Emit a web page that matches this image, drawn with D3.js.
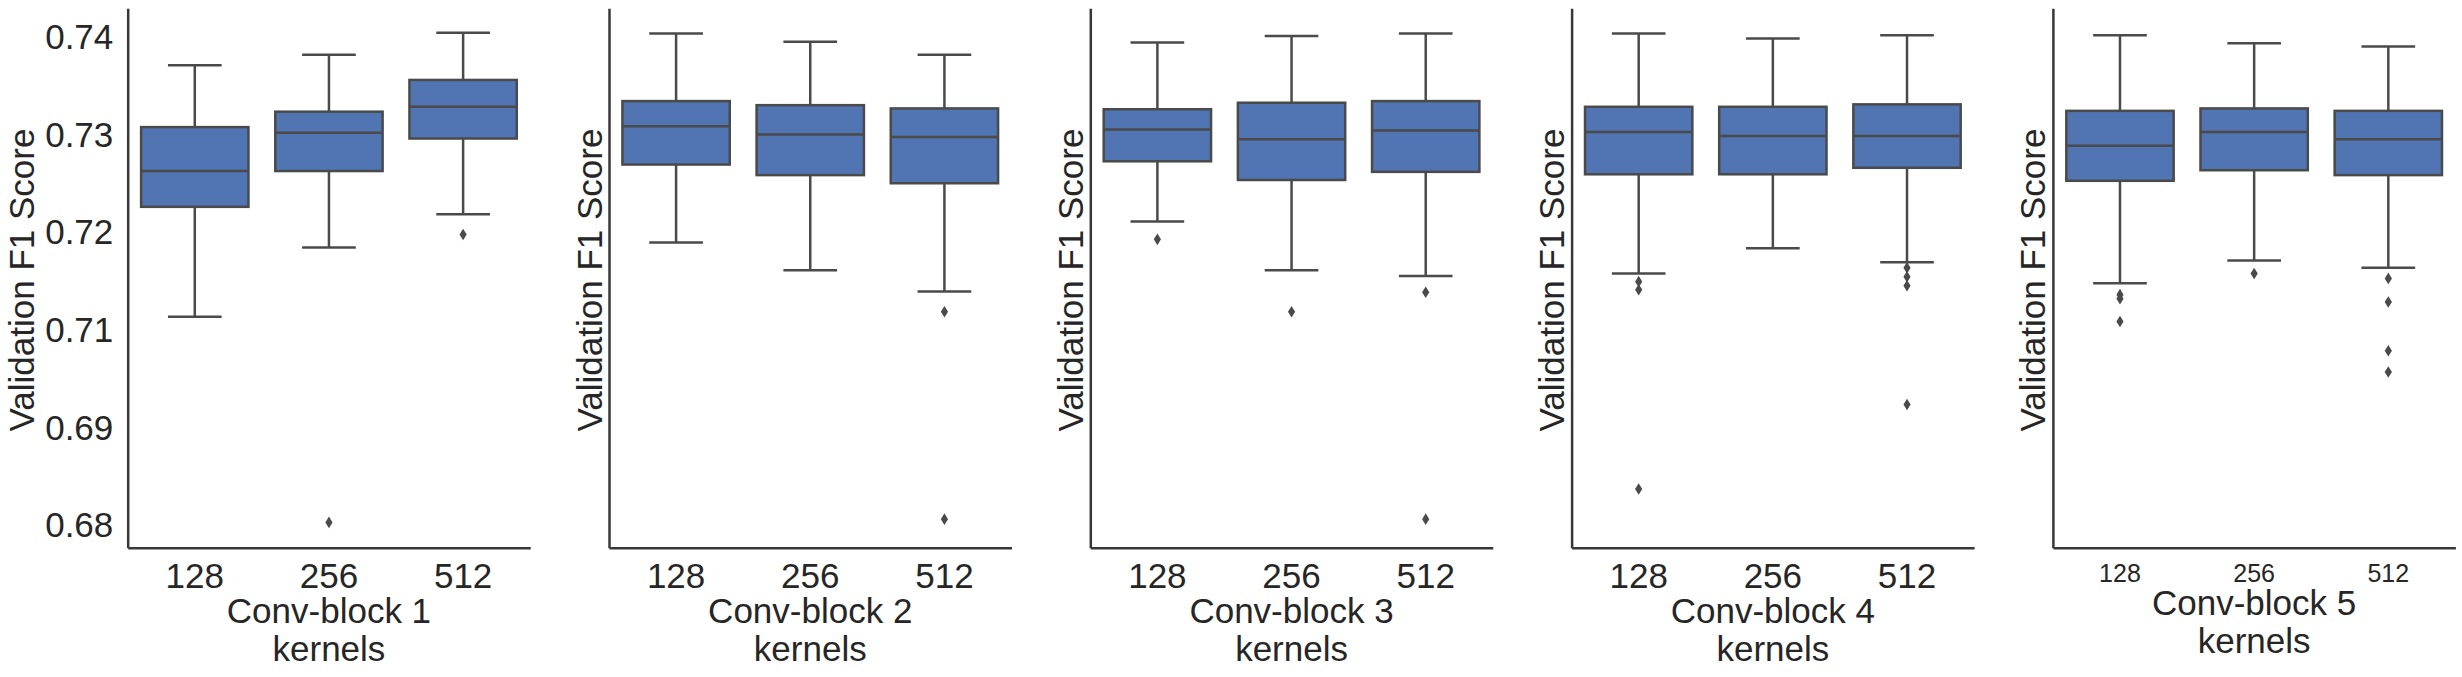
<!DOCTYPE html>
<html>
<head>
<meta charset="utf-8">
<script src="https://cdn.jsdelivr.net/npm/d3@7"></script>
<style>
  html, body { margin: 0; padding: 0; background: #ffffff; }
  svg { display: block; }
  text { font-family: "Liberation Sans", Arial, sans-serif; fill: #262626; }
</style>
</head>
<body>
<svg id="chart" width="2462" height="677"></svg>
<script>
// ---------------- data ----------------
const blocks = ["Conv-block 1", "Conv-block 2", "Conv-block 3", "Conv-block 4", "Conv-block 5"];
const kernels = ["128", "256", "512"];

const whiskerLow = [
  [0.7055, 0.7140, 0.7181],
  [0.7146, 0.7112, 0.7086],
  [0.7172, 0.7112, 0.7105],
  [0.7108, 0.7139, 0.7122],
  [0.7096, 0.7124, 0.7115]
];
const q1 = [
  [0.7190, 0.7234, 0.7274],
  [0.7242, 0.7229, 0.7219],
  [0.7246, 0.7223, 0.7233],
  [0.7230, 0.7230, 0.7238],
  [0.7222, 0.7235, 0.7229]
];
const medians = [
  [0.7234, 0.7281, 0.7313],
  [0.7289, 0.7279, 0.7276],
  [0.7285, 0.7273, 0.7284],
  [0.7282, 0.7277, 0.7277],
  [0.7265, 0.7282, 0.7273]
];
const q3 = [
  [0.7288, 0.7307, 0.7346],
  [0.7320, 0.7315, 0.7311],
  [0.7310, 0.7318, 0.7320],
  [0.7313, 0.7313, 0.7316],
  [0.7308, 0.7311, 0.7308]
];
const whiskerHigh = [
  [0.7364, 0.7377, 0.7404],
  [0.7403, 0.7393, 0.7377],
  [0.7392, 0.7400, 0.7403],
  [0.7403, 0.7397, 0.7401],
  [0.7401, 0.7391, 0.7387]
];
const outliers = [
  [[], [0.6802], [0.7156]],
  [[], [], [0.7061, 0.6806]],
  [[0.7150], [0.7061], [0.7085, 0.6806]],
  [[0.7098, 0.7088, 0.6843], [], [0.7115, 0.7104, 0.7093, 0.6947]],
  [[0.7082, 0.7077, 0.7049], [0.7108], [0.7102, 0.7073, 0.7013, 0.6987]]
];

const yTickValues = [0.68, 0.692, 0.704, 0.716, 0.728, 0.74];
const yTickLabels = ["0.68", "0.69", "0.71", "0.72", "0.73", "0.74"];
const yTitle = "Validation F1 Score";
const xTitleLine2 = "kernels";

// ---------------- layout ----------------
const panelLeft0 = 127.7, panelStep = 481.3, panelW = 402.5;
const axisTop = 8.3, axisBottom = 547.7;
const boxFill = "#5175b3", lineGray = "#4a4a4a", axisColor = "#383838";
const lw = 2.5;

const svg = d3.select("#chart");

const y = d3.scaleLinear().domain([0.67709, 0.74341]).range([axisBottom, axisTop]);

blocks.forEach((block, bi) => {
  const left = panelLeft0 + bi * panelStep;
  const g = svg.append("g").attr("transform", `translate(${left},0)`);
  const x = d3.scaleBand().domain(kernels).range([0, panelW]).padding(0);
  const bw = x.bandwidth() * 0.8;
  const small = bi === blocks.length - 1;

  kernels.forEach((k, ki) => {
    const cx = x(k) + x.bandwidth() / 2;
    const bg = g.append("g");
    // whiskers
    bg.append("line").attr("x1", cx).attr("x2", cx)
      .attr("y1", y(q3[bi][ki])).attr("y2", y(whiskerHigh[bi][ki]))
      .attr("stroke", lineGray).attr("stroke-width", lw);
    bg.append("line").attr("x1", cx).attr("x2", cx)
      .attr("y1", y(q1[bi][ki])).attr("y2", y(whiskerLow[bi][ki]))
      .attr("stroke", lineGray).attr("stroke-width", lw);
    // caps
    [whiskerHigh[bi][ki], whiskerLow[bi][ki]].forEach(v => {
      bg.append("line").attr("x1", cx - bw / 4).attr("x2", cx + bw / 4)
        .attr("y1", y(v)).attr("y2", y(v))
        .attr("stroke", lineGray).attr("stroke-width", lw);
    });
    // box
    bg.append("rect")
      .attr("x", cx - bw / 2).attr("width", bw)
      .attr("y", y(q3[bi][ki])).attr("height", y(q1[bi][ki]) - y(q3[bi][ki]))
      .attr("fill", boxFill).attr("stroke", lineGray).attr("stroke-width", lw);
    // median
    bg.append("line").attr("x1", cx - bw / 2).attr("x2", cx + bw / 2)
      .attr("y1", y(medians[bi][ki])).attr("y2", y(medians[bi][ki]))
      .attr("stroke", lineGray).attr("stroke-width", lw);
    // outliers (thin diamonds)
    bg.selectAll("path.flier").data(outliers[bi][ki]).enter().append("path")
      .attr("class", "flier")
      .attr("d", "M0,-5.8 L3.6,0 L0,5.8 L-3.6,0 Z")
      .attr("transform", v => `translate(${cx},${y(v)})`)
      .attr("fill", lineGray);
  });

  // left axis
  const yAxis = d3.axisLeft(y).tickValues(bi === 0 ? yTickValues : [])
    .tickFormat((d, i) => yTickLabels[i]).tickSize(0).tickSizeOuter(0).tickPadding(14.4);
  const ya = g.append("g").call(yAxis);
  ya.select(".domain").attr("stroke", axisColor).attr("stroke-width", lw);
  ya.selectAll("text").attr("font-size", 35).attr("dy", "0.36em")
    .attr("fill", "#262626").style("font-family", "'Liberation Sans', Arial, sans-serif");

  // bottom axis
  const xAxis = d3.axisBottom(x).tickSize(0).tickSizeOuter(0);
  const xa = g.append("g").attr("transform", `translate(0,${axisBottom})`).call(xAxis);
  xa.select(".domain").attr("stroke", axisColor).attr("stroke-width", lw);
  xa.selectAll("text").attr("font-size", small ? 25 : 35)
    .attr("y", small ? 34 : 40.6).attr("dy", 0)
    .attr("fill", "#262626").style("font-family", "'Liberation Sans', Arial, sans-serif");

  // x title (two lines)
  const base1 = small ? 615 : 623;
  g.append("text").attr("x", panelW / 2).attr("y", base1)
    .attr("text-anchor", "middle").attr("font-size", 35).text(block);
  g.append("text").attr("x", panelW / 2).attr("y", base1 + 38.3)
    .attr("text-anchor", "middle").attr("font-size", 35).text(xTitleLine2);

  // y title
  const ty = (axisTop + axisBottom) / 2 + 2;
  const tx = bi === 0 ? -94.2 : -7.5;
  g.append("text").attr("transform", `translate(${tx},${ty}) rotate(-90)`)
    .attr("text-anchor", "middle").attr("font-size", 35).text(yTitle);
});
</script>
</body>
</html>
